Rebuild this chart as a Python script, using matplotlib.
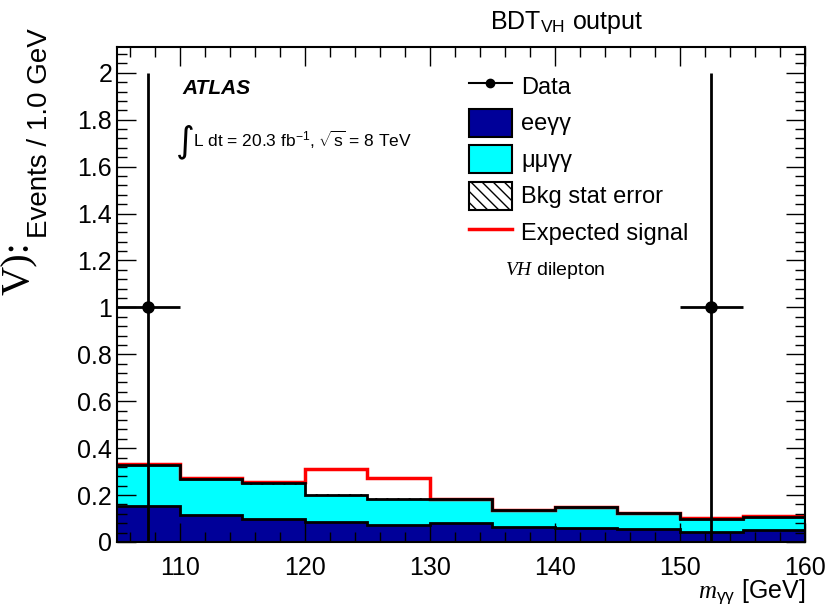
import numpy as np
import matplotlib
matplotlib.use("Agg")
import matplotlib.pyplot as plt
from matplotlib.patches import Patch
from matplotlib.lines import Line2D
from matplotlib.ticker import MultipleLocator, FormatStrFormatter

plt.rcParams['font.family'] = ['Liberation Sans', 'DejaVu Sans']
plt.rcParams['mathtext.fontset'] = 'custom'
plt.rcParams['mathtext.rm'] = 'Liberation Sans'
plt.rcParams['mathtext.sf'] = 'Liberation Sans'
plt.rcParams['mathtext.it'] = 'Liberation Serif:italic'
plt.rcParams['hatch.linewidth'] = 1.0

# binning of m_yy (GeV)
edges = np.arange(105, 161, 5)
# eeyy background per bin
ee = np.array([0.155, 0.115, 0.100, 0.084, 0.072, 0.080, 0.063, 0.060, 0.055, 0.044, 0.050])
# total background (ee + mumu) per bin
tot = np.array([0.330, 0.270, 0.252, 0.200, 0.183, 0.182, 0.136, 0.148, 0.122, 0.100, 0.108])
mumu = tot - ee
bkg_err = np.array([0.008, 0.007, 0.007, 0.006, 0.006, 0.006, 0.005, 0.005, 0.005, 0.004, 0.004])
# expected signal on top of background
sig = np.array([0.003, 0.002, 0.003, 0.110, 0.090, 0.003, 0.002, 0.002, 0.002, 0.002, 0.002])
# data points
data_x = [107.5, 152.5]
data_y = [1.0, 1.0]
data_xerr = [2.5, 2.5]
data_yerr = [1.0, 1.0]

fig = plt.figure(figsize=(8.3, 6.1), dpi=100)
ax = fig.add_axes([0.141, 0.1115, 0.829, 0.8115])

ax.stairs(ee + mumu, edges, fill=True, color='#00FFFF', baseline=0)
ax.stairs(ee, edges, fill=True, color='#000099', baseline=0)
ax.stairs(ee, edges, color='black', lw=2, baseline=None)
ax.stairs(tot + bkg_err, edges, baseline=tot - bkg_err, fill=True, facecolor='none',
          edgecolor='black', hatch='\\\\\\', lw=0)
ax.stairs(tot + sig, edges, color='red', lw=2.5, baseline=None)
ax.stairs(tot, edges, color='black', lw=2, baseline=None)

ax.errorbar(data_x, data_y, xerr=data_xerr, yerr=data_yerr, fmt='o', color='black',
            ms=8, lw=2, capsize=0)

ax.set_xlim(105, 160)
ax.set_ylim(0, 2.11)
ax.xaxis.set_major_locator(MultipleLocator(10))
ax.xaxis.set_minor_locator(MultipleLocator(2))
ax.yaxis.set_major_locator(MultipleLocator(0.2))
ax.yaxis.set_minor_locator(MultipleLocator(0.04))
ax.yaxis.set_major_formatter(FormatStrFormatter('%g'))
ax.tick_params(which='both', direction='in', top=True, right=True, labelsize=18, width=1)
ax.tick_params(which='major', length=14)
ax.tick_params(which='minor', length=7)
ax.tick_params(axis='x', pad=10)
for s in ax.spines.values():
    s.set_linewidth(1.5)

fig.text(805 / 830, 1 - 592 / 610, r'$m_{\mathrm{γγ}}$ [GeV]', ha='right', va='center', fontsize=18)
fig.text(40 / 830, 1 - 28 / 610, 'Events / 1.0 GeV', rotation=90, ha='center', va='top', fontsize=20)
fig.text(567 / 830, 1 - 22 / 610, r'BDT$_{\mathrm{VH}}$ output', ha='center', va='center', fontsize=18)
fig.text(1 / 830, 1 - 268 / 610, 'V):', rotation=90, ha='left', va='center', fontsize=29,
         family='Liberation Serif')

fig.text(182 / 830, 1 - 88 / 610, 'ATLAS', fontsize=15,
         fontweight='bold', fontstyle='italic', va='center')
fig.text(176 / 830, 1 - 142 / 610, '∫', fontsize=26, va='center', family='DejaVu Sans')
fig.text(193 / 830, 1 - 140 / 610, r'L dt = 20.3 fb$^{\mathrm{-1}}$, $\sqrt{\mathrm{s}}$ = 8 TeV',
         fontsize=12.5, va='center')
fig.text(505 / 830, 1 - 270 / 610, r'$VH$ dilepton', fontsize=14, va='center')

handles = [
    Line2D([0], [0], color='black', marker='o', ms=6, lw=1.5),
    Patch(facecolor='#000099', edgecolor='black', lw=1.5),
    Patch(facecolor='#00FFFF', edgecolor='black', lw=1.5),
    Patch(facecolor='white', edgecolor='black', hatch='\\\\\\', lw=1.5),
    Line2D([0], [0], color='red', lw=2.5),
]
labels = ['Data', 'eeγγ', 'μμγγ', 'Bkg stat error', 'Expected signal']
ax.legend(handles, labels, loc='upper left', bbox_to_anchor=(469 / 830, 1 - 72 / 610),
          bbox_transform=fig.transFigure, frameon=False, fontsize=17, handlelength=1.8,
          handleheight=1.45, labelspacing=0.36, handletextpad=0.4, borderaxespad=0,
          borderpad=0)

fig.savefig('out.png', dpi=100)
